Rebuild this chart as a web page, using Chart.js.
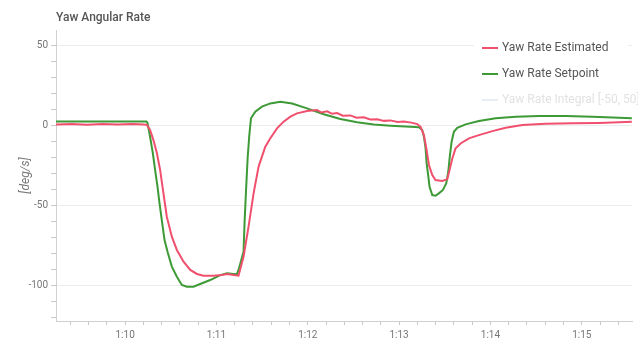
<!DOCTYPE html>
<html>
<head>
  <title>Yaw Angular Rate</title>
  <script src="https://cdn.jsdelivr.net/npm/chart.js"></script>
  <style>
    html, body { margin: 0; padding: 0; background: #fff; }
    #wrap { width: 638px; height: 344px; position: relative; }
  </style>
</head>
<body>
  <div id="wrap">
    <canvas id="yawChart"></canvas>
  </div>

  <script>
    // time in seconds (600 = 1:10), rates in deg/s
    const estTime = [554.6, 565, 575, 585, 595, 605, 612, 614.3, 616.4, 618.6, 620.9, 623.0, 625.2, 627.4, 630.7, 634.0, 638.4, 642.8, 647.2, 651.5, 658.1, 663.6, 666.9, 671.3, 674.5, 677.8, 681.1, 684.4, 687.7, 692.1, 695.4, 699.8, 704.1, 708.6, 712.9, 719.5, 726.1, 729, 732.7, 736, 739.3, 743, 748.0, 752, 756.8, 761, 765.6, 770, 774.3, 779, 783.1, 788, 791.9, 794.1, 796.3, 797.9, 799.6, 801.8, 803.9, 808.4, 811.7, 813.4, 815.0, 817.1, 820.4, 825.9, 832.4, 841.3, 850.0, 861.0, 876.3, 893.9, 911.4, 924.5, 932.9];
    const estRate = [0.3, 0.6, 0.2, 0.7, 0.3, 0.6, 0.4, 0, -3.1, -9.4, -17.7, -28.1, -42.7, -57.3, -69.8, -78.1, -85.4, -90.6, -93.1, -94.2, -94.2, -93.8, -93.1, -93.8, -94.2, -82.3, -63.5, -42.7, -26, -13.5, -8.3, -2.1, 2.1, 5.2, 7.3, 8.8, 9.4, 7.8, 8.6, 7.0, 7.5, 5.8, 6.0, 4.6, 4.8, 3.5, 3.6, 2.6, 2.9, 1.9, 2.2, 1.5, 0.6, -1.1, -6.3, -14.6, -25, -31.3, -34.4, -35, -33.8, -27.1, -20.8, -14.6, -11.5, -8.3, -6.3, -3.8, -1.7, 0, 0.8, 1.1, 1.3, 1.7, 2.1];

    const spTime = [554.6, 614, 614.7, 616.4, 618.2, 619.7, 621.3, 622.6, 624.1, 625.9, 628.1, 630.7, 634.0, 637.3, 640.6, 644.9, 649.3, 655.9, 662.5, 666.9, 671.3, 673.5, 674.5, 677.8, 678.5, 679.4, 680.5, 681.6, 682.7, 685.5, 689.9, 695.4, 702.0, 709.7, 719.5, 730.5, 741.4, 752.4, 763.4, 774.3, 787.5, 793.0, 795.2, 796.3, 797.4, 798.0, 799.2, 800.0, 801.8, 803.9, 806.1, 808.8, 811.0, 812.3, 813.4, 814.5, 816.0, 818.2, 823.7, 832.4, 843.4, 856.6, 871.9, 889.5, 907.0, 924.5, 932.9];
    const spRate = [2.2, 2.2, 1.4, -7.3, -17.5, -28.1, -38.6, -48.8, -59.4, -71.9, -80, -88.5, -94.8, -100, -101.1, -101.1, -99.4, -96.9, -93.8, -92.7, -93.1, -93.1, -90.6, -79.2, -60.4, -41.7, -20.6, -6.3, 4.2, 8.3, 11.5, 13.5, 14.6, 13.5, 10.4, 6.7, 3.8, 1.7, 0.4, -0.4, -1.1, -1.4, -3.1, -7.3, -14.6, -23, -32.3, -38.6, -43.8, -44.2, -42.7, -40.6, -36.4, -29.2, -18.8, -10.4, -4.2, -1.7, 0.4, 2.5, 4.2, 5.2, 5.6, 5.6, 5.2, 4.6, 4.2];

    const seriesNames = ['Yaw Rate Estimated', 'Yaw Rate Setpoint', 'Yaw Rate Integral [-50, 50]'];

    const xTickValues = [600, 660, 720, 780, 840, 900];
    const xTickLabels = ['1:10', '1:11', '1:12', '1:13', '1:14', '1:15'];
    const yTickValues = [-120, -110, -100, -90, -80, -70, -60, -50, -40, -30, -20, -10, 0, 10, 20, 30, 40, 50];
    const yTickLabels = ['-100', '-50', '0', '50'];

    const toPoints = (xs, ys) => xs.map((x, i) => ({ x: x, y: ys[i] }));

    // minor ticks on the time axis every 12 s
    const xMinor = [];
    for (let t = 564; t <= 924; t += 12) xMinor.push(t);

    // title and legend drawn straight onto the canvas
    const chrome = {
      id: 'chrome',
      afterDraw(chart) {
        const ctx = chart.ctx;
        ctx.save();
        ctx.fillStyle = '#555';
        ctx.font = '500 12px Roboto';
        ctx.textBaseline = 'middle';
        ctx.textAlign = 'left';
        ctx.fillText('Yaw Angular Rate', 56, 18);

        ctx.fillStyle = '#fff';
        ctx.fillRect(474, 36, 154, 74);
        ctx.font = '12px Roboto';
        chart.data.datasets.forEach((ds, i) => {
          const y = 48 + i * 26;
          ctx.strokeStyle = ds.legendLine;
          ctx.lineWidth = 2;
          ctx.beginPath();
          ctx.moveTo(482, y);
          ctx.lineTo(498, y);
          ctx.stroke();
          ctx.fillStyle = ds.legendText;
          ctx.fillText(ds.label, 502, y);
        });
        ctx.restore();
      }
    };

    new Chart(document.getElementById('yawChart'), {
      type: 'line',
      data: {
        datasets: [
          {
            label: seriesNames[0],
            data: toPoints(estTime, estRate),
            borderColor: '#f0506e',
            legendLine: '#f0506e',
            legendText: '#555',
            borderWidth: 2,
            pointRadius: 0,
            tension: 0
          },
          {
            label: seriesNames[1],
            data: toPoints(spTime, spRate),
            borderColor: '#3d9a36',
            legendLine: '#3d9a36',
            legendText: '#555',
            borderWidth: 2,
            pointRadius: 0,
            tension: 0
          },
          {
            label: seriesNames[2],
            data: [],
            borderColor: '#e4eaf0',
            legendLine: '#e8eef4',
            legendText: '#e2e2e2',
            borderWidth: 2,
            pointRadius: 0
          }
        ]
      },
      options: {
        responsive: true,
        maintainAspectRatio: false,
        animation: false,
        layout: { padding: { top: 30, right: 6, left: 0, bottom: 0 } },
        plugins: {
          legend: { display: false },
          title: { display: false },
          tooltip: { enabled: false }
        },
        scales: {
          x: {
            type: 'linear',
            min: 554.6,
            max: 933,
            afterFit: s => { s.height = 23; },
            afterBuildTicks: s => { s.ticks = xMinor.map(v => ({ value: v })); },
            border: { color: '#d0d0d0' },
            grid: {
              drawOnChartArea: false,
              tickLength: 4,
              tickColor: '#c8c8c8'
            },
            ticks: {
              autoSkip: false,
              maxRotation: 0,
              padding: 4,
              color: '#777',
              font: { family: 'Roboto', size: 10 },
              callback: v => {
                const k = xTickValues.indexOf(v);
                return k >= 0 ? xTickLabels[k] : '';
              }
            }
          },
          y: {
            min: -122.5,
            max: 59.4,
            afterFit: s => { s.width = 56; },
            afterBuildTicks: s => { s.ticks = yTickValues.map(v => ({ value: v })); },
            border: { color: '#d0d0d0' },
            grid: {
              color: c => (c.tick && c.tick.value % 50 === 0) ? '#ececec' : 'rgba(0,0,0,0)',
              tickColor: '#c8c8c8',
              tickLength: 5
            },
            ticks: {
              autoSkip: false,
              padding: 3,
              color: '#777',
              font: { family: 'Roboto', size: 10 },
              callback: v => yTickLabels.includes(String(v)) ? String(v) : ''
            },
            title: {
              display: true,
              text: '[deg/s]',
              color: '#777',
              font: { family: 'Roboto', size: 12, style: 'italic' },
              padding: { top: 19, bottom: 0 }
            }
          }
        }
      },
      plugins: [chrome]
    });
  </script>
</body>
</html>
